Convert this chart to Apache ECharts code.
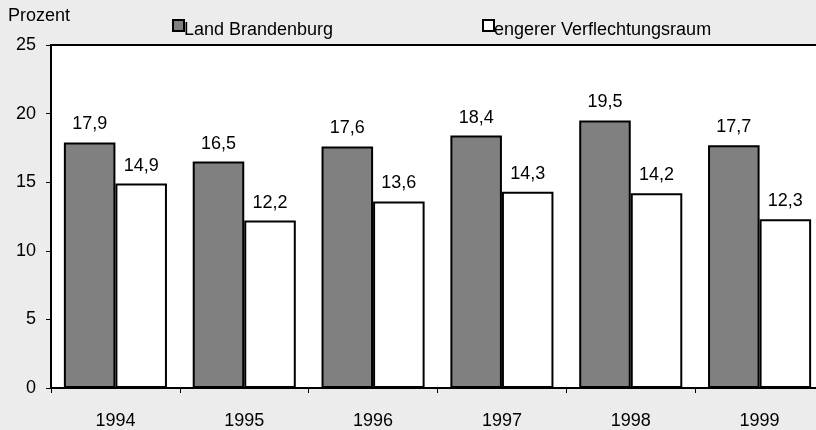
<!DOCTYPE html>
<html>
<head>
<meta charset="utf-8">
<script src="https://cdn.jsdelivr.net/npm/echarts@6/dist/echarts.min.js"></script>
<style>
  html, body { margin: 0; padding: 0; background: #ececec; }
  #chart { width: 816px; height: 430px; }
</style>
</head>
<body>
<div id="chart"></div>
<script>
const years = ['1994', '1995', '1996', '1997', '1998', '1999']
const landBrandenburg = [17.9, 16.5, 17.6, 18.4, 19.5, 17.7]
const verflechtungsraum = [14.9, 12.2, 13.6, 14.3, 14.2, 12.3]
const seriesNames = ['Land Brandenburg', 'engerer Verflechtungsraum']

const font = 'Liberation Sans, Arial, sans-serif'
const fmt = (v) => String(v).replace('.', ',')

const chart = echarts.init(document.getElementById('chart'))

const barLabel = {
  show: true,
  position: 'top',
  distance: 9,
  color: '#000',
  fontFamily: font,
  fontSize: 18,
  formatter: (p) => fmt(p.value)
}

// legend text sits a little lower than its square in the original
const legendBase = {
  top: 14,
  itemWidth: 11,
  itemHeight: 11,
  itemGap: 4,
  icon: 'rect',
  formatter: '{t|{name}}',
  textStyle: {
    fontFamily: font,
    fontSize: 18,
    color: '#000',
    rich: {
      t: { fontFamily: font, fontSize: 18, color: '#000', lineHeight: 28, verticalAlign: 'bottom', padding: [0, 0, 0, -5] }
    }
  }
}

chart.setOption({
  backgroundColor: '#ececec',
  animation: false,
  textStyle: { fontFamily: font },
  graphic: [{
    type: 'text',
    left: 8,
    top: 7,
    style: { text: 'Prozent', fontFamily: font, fontSize: 18, fill: '#000' }
  }],
  legend: [
    Object.assign({}, legendBase, { left: 167, data: [seriesNames[0]] }),
    Object.assign({}, legendBase, { left: 477, data: [seriesNames[1]] })
  ],
  grid: {
    left: 51,
    top: 45,
    width: 773,
    height: 343,
    containLabel: false,
    outerBoundsMode: 'none',
    show: true,
    backgroundColor: '#fff',
    borderColor: '#000',
    borderWidth: 2
  },
  xAxis: {
    type: 'category',
    data: years,
    axisLine: { lineStyle: { color: '#000', width: 2 } },
    axisTick: { show: true, length: 5, lineStyle: { color: '#000' } },
    axisLabel: { color: '#000', fontFamily: font, fontSize: 18, margin: 24 },
    splitLine: { show: false }
  },
  yAxis: {
    type: 'value',
    min: 0,
    max: 25,
    interval: 5,
    axisLine: { show: true, lineStyle: { color: '#000', width: 2 } },
    axisTick: { show: true, length: 5, lineStyle: { color: '#000' } },
    axisLabel: { color: '#000', fontFamily: font, fontSize: 18, margin: 15 },
    splitLine: { show: false }
  },
  series: [
    {
      name: seriesNames[0],
      type: 'bar',
      data: landBrandenburg,
      barGap: '0%',
      barCategoryGap: '20%',
      itemStyle: { color: '#808080', borderColor: '#000', borderWidth: 2 },
      label: barLabel
    },
    {
      name: seriesNames[1],
      type: 'bar',
      data: verflechtungsraum,
      itemStyle: { color: '#fff', borderColor: '#000', borderWidth: 2 },
      label: barLabel
    }
  ]
})
</script>
</body>
</html>
